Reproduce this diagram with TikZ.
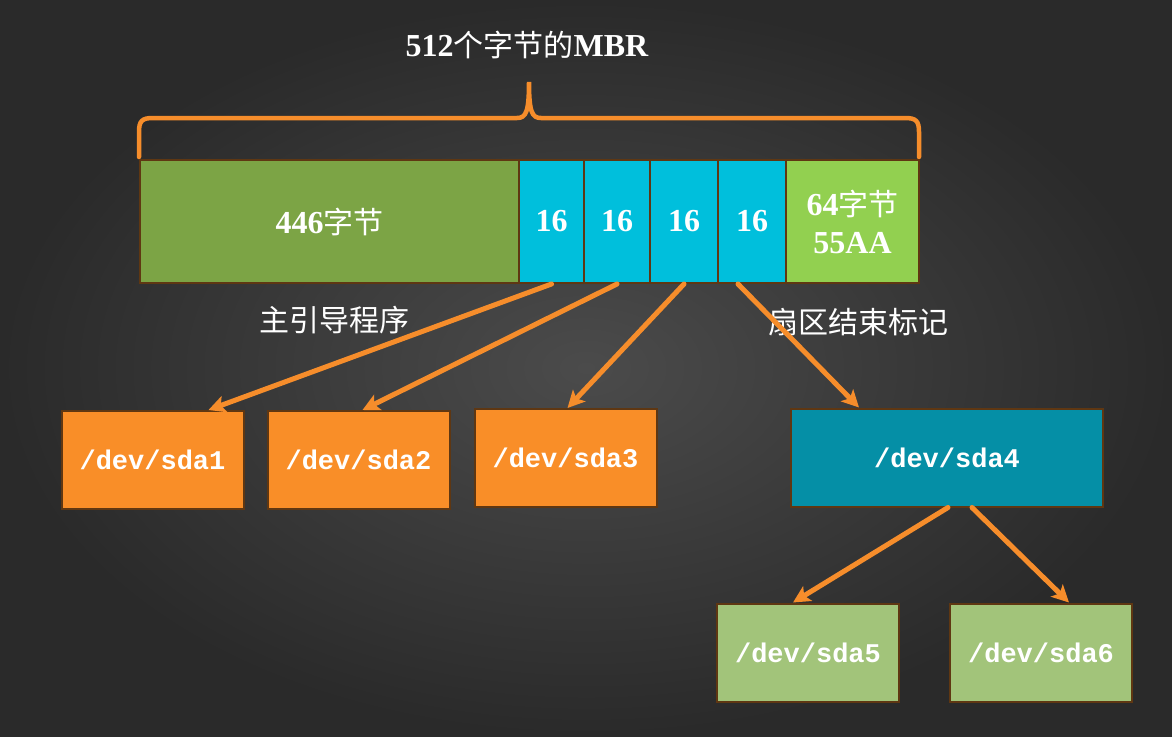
\documentclass[tikz,border=0pt]{standalone}
\usepackage{fontspec}
\setmainfont{Liberation Serif}
\setmonofont{Liberation Mono}
\newfontfamily\cjk{Noto Sans CJK SC}
\newcommand\zhtext[1]{{\cjk\mdseries\fontsize{30}{38}\selectfont #1}}
\usetikzlibrary{arrows.meta}

\definecolor{bgin}{HTML}{4B4B4B}
\definecolor{bgout}{HTML}{2A2A2A}
\definecolor{boot}{HTML}{7CA445}
\definecolor{part}{HTML}{00BFDC}
\definecolor{sign}{HTML}{92D050}
\definecolor{prim}{HTML}{F98E28}
\definecolor{ext}{HTML}{058FA6}
\definecolor{logi}{HTML}{A2C47A}
\definecolor{edge}{HTML}{5F3712}
\definecolor{arr}{HTML}{F68D2B}

\begin{document}
\begin{tikzpicture}[x=1pt,y=-1pt,>={Stealth[length=17pt,width=17pt,inset=4pt]},
    cell/.style={draw=edge,line width=2pt,inner sep=0pt,text=white,align=center,
        font=\bfseries\fontsize{32}{38}\selectfont},
    dev/.style={cell,minimum width=\devw pt,minimum height=\devh pt,
        font=\ttfamily\bfseries\fontsize{27}{30}\selectfont},
    link/.style={->,draw=arr,line width=5pt,line cap=round},
    note/.style={text=white,font=\cjk\fontsize{30}{36}\selectfont}]

    % Define box dimensions
    \def\rowh{123}   % Height of the MBR row
    \def\devw{182}   % Partition box width
    \def\devh{98}    % Partition box height

    % Background
    \shade[inner color=bgin,outer color=bgout] (0,0) rectangle (1172,736);

    % Title
    \node[text=white,font=\bfseries\fontsize{32}{36}\selectfont] (title) at (527,45)
        {512\zhtext{个字节的}MBR};

    % Brace over the MBR
    \draw[draw=arr,line width=4.5pt,line cap=round]
        (139,157) -- (139,132) .. controls (139,121) and (142,118) .. (153,118) -- (517,118)
        .. controls (526,118) and (529,112) .. (529,82)
        .. controls (529,112) and (532,118) .. (541,118) -- (905,118)
        .. controls (916,118) and (919,121) .. (919,132) -- (919,157);

    % The MBR row
    \node[cell,fill=boot,minimum width=380pt,minimum height=\rowh pt] (boot) at (329.5,221.5)
        {446\zhtext{字节}};
    \node[cell,fill=part,minimum width=65pt,minimum height=\rowh pt] (p1) at (551.5,221.5) {16};
    \node[cell,fill=part,minimum width=66pt,minimum height=\rowh pt] (p2) at (617,221.5) {16};
    \node[cell,fill=part,minimum width=68pt,minimum height=\rowh pt] (p3) at (684,221.5) {16};
    \node[cell,fill=part,minimum width=68pt,minimum height=\rowh pt] (p4) at (752,221.5) {16};
    \node[cell,fill=sign,minimum width=133pt,minimum height=\rowh pt] (sign) at (852.5,221.5)
        {64\zhtext{字节}\\55AA};

    % Labels
    \node[note] (bootnote) at (334,320) {主引导程序};
    \node[note] (signnote) at (858,322) {扇区结束标记};

    % Partitions
    \node[dev,fill=prim] (sda1) at (152.5,460) {/dev/sda1};
    \node[dev,fill=prim] (sda2) at (358.5,460) {/dev/sda2};
    \node[dev,fill=prim] (sda3) at (565.5,458) {/dev/sda3};
    \node[dev,fill=ext,minimum width=312pt] (sda4) at (947,457.5) {/dev/sda4};
    \node[dev,fill=logi] (sda5) at (808,652.5) {/dev/sda5};
    \node[dev,fill=logi] (sda6) at (1041,652.5) {/dev/sda6};

    % Arrows
    \draw[link] (p1.south) -- ([xshift=56pt]sda1.north);
    \draw[link] (p2.south) -- ([xshift=4pt]sda2.north);
    \draw[link] (p3.south) -- ([xshift=2pt]sda3.north);
    \draw[link] ([xshift=-14pt]p4.south) -- ([xshift=-88pt]sda4.north);
    \draw[link] ([xshift=1pt]sda4.south) -- ([xshift=-15pt]sda5.north);
    \draw[link] ([xshift=25pt]sda4.south) -- ([xshift=28pt]sda6.north);

\end{tikzpicture}
\end{document}
